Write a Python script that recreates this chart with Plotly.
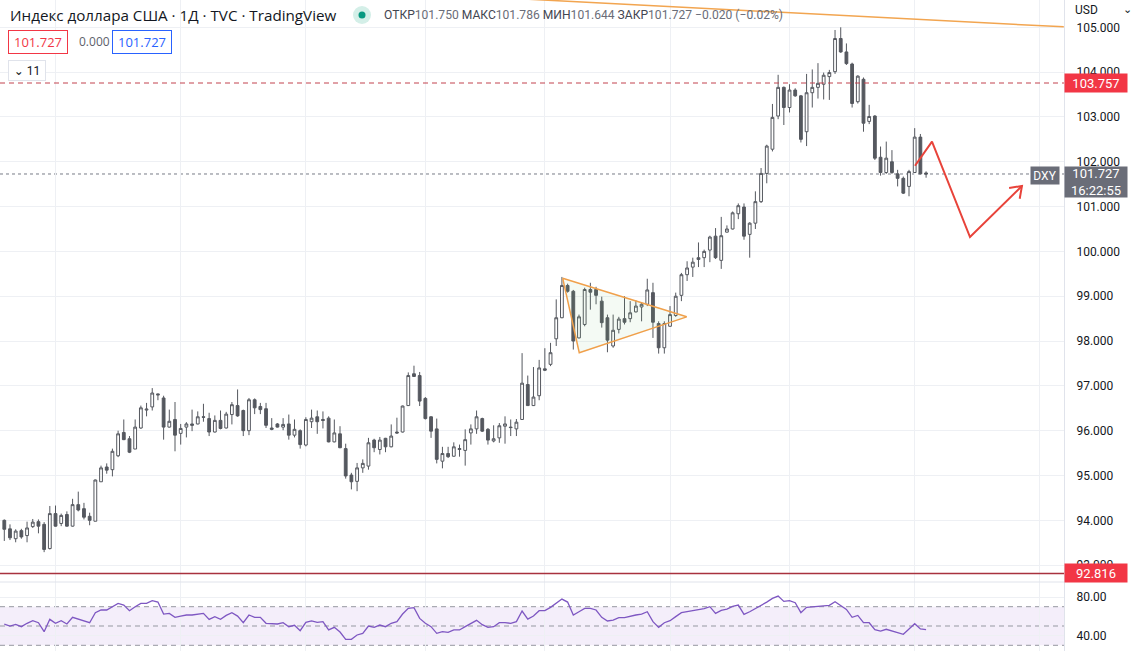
import math
import plotly.graph_objects as go

# ---------------- data ----------------
OPEN = [94.00, 93.81, 93.59, 93.77, 93.66, 93.86, 93.97, 93.91, 93.37, 94.15,
        93.93, 94.13, 93.87, 94.35, 94.26, 94.09, 93.98, 94.86, 95.19, 95.13,
        95.44, 95.96, 95.82, 95.59, 96.06, 96.46, 96.53, 96.82, 96.73, 96.08,
        96.25, 95.94, 96.08, 96.15, 96.15, 96.31, 96.27, 95.97, 96.23, 96.06,
        96.36, 96.56, 96.45, 96.00, 96.69, 96.54, 96.49, 96.06, 96.15, 96.08,
        96.15, 95.90, 96.00, 95.68, 96.20, 96.31, 96.25, 96.28, 95.75, 95.93,
        95.60, 95.01, 94.87, 95.17, 95.21, 95.79, 95.58, 95.83, 95.64, 95.97,
        95.97, 96.56, 97.27, 97.23, 96.72, 96.31, 96.04, 95.32, 95.49, 95.43,
        95.58, 95.56, 95.95, 96.04, 96.27, 96.03, 95.77, 95.84, 96.10, 96.08,
        96.04, 96.25, 97.03, 96.56, 96.78, 97.38, 97.48, 98.05, 98.52, 99.24,
        99.11, 98.07, 98.37, 99.15, 99.15, 98.89, 98.52, 97.89, 98.26, 98.50,
        98.50, 98.65, 98.76, 98.82, 99.08, 98.39, 97.85, 98.33, 98.57, 99.02,
        99.48, 99.65, 99.82, 99.86, 100.03, 100.34, 99.80, 100.43, 100.50, 100.84,
        100.99, 100.38, 100.63, 101.11, 101.74, 102.28, 103.02, 103.66, 103.21, 103.60,
        103.47, 102.67, 103.54, 103.66, 103.73, 103.90, 104.01, 104.75, 104.45, 104.18,
        103.34, 103.84, 102.90, 103.02, 102.10, 101.76, 102.00, 101.73, 101.63, 101.45,
        101.76, 102.55, 101.750]
HIGH = [94.02, 93.91, 93.80, 93.81, 93.97, 94.03, 94.02, 93.96, 94.32, 94.33,
        94.15, 94.20, 94.48, 94.64, 94.39, 94.17, 94.91, 95.22, 95.27, 95.60,
        96.00, 96.25, 95.88, 96.25, 96.56, 96.62, 96.95, 96.83, 96.78, 96.47,
        96.64, 96.15, 96.19, 96.47, 96.43, 96.60, 96.40, 96.34, 96.45, 96.42,
        96.64, 96.92, 96.47, 96.73, 96.72, 96.62, 96.62, 96.28, 96.17, 96.28,
        96.36, 96.25, 96.03, 96.30, 96.47, 96.45, 96.43, 96.32, 96.25, 96.10,
        95.71, 95.06, 95.28, 95.36, 95.84, 95.82, 95.86, 95.84, 96.14, 96.29,
        96.56, 97.30, 97.45, 97.31, 96.75, 96.32, 96.27, 95.64, 95.64, 95.74,
        95.69, 96.03, 96.14, 96.45, 96.29, 96.06, 96.12, 96.17, 96.32, 96.25,
        96.26, 97.73, 97.23, 97.42, 97.58, 97.84, 97.96, 98.93, 99.43, 99.28,
        99.14, 98.59, 99.19, 99.30, 99.21, 98.99, 98.59, 98.59, 98.54, 99.00,
        98.89, 98.91, 98.87, 99.39, 99.30, 98.44, 98.44, 98.78, 99.08, 99.52,
        99.78, 99.86, 100.20, 100.04, 100.35, 100.52, 100.77, 100.58, 100.89, 101.07,
        101.07, 100.65, 101.34, 101.86, 102.38, 103.29, 103.94, 103.68, 103.73, 103.64,
        103.49, 103.96, 104.06, 104.20, 103.99, 104.05, 104.94, 105.00, 104.64, 104.21,
        103.93, 103.88, 103.27, 103.04, 102.34, 102.45, 102.26, 101.82, 101.67, 101.82,
        102.75, 102.62, 101.786]
LOW = [93.54, 93.56, 93.51, 93.59, 93.51, 93.83, 93.71, 93.29, 93.35, 93.86,
       93.87, 93.86, 93.86, 94.20, 94.02, 93.89, 93.98, 94.86, 95.04, 94.98,
       95.41, 95.79, 95.50, 95.59, 96.04, 96.32, 96.45, 96.68, 95.80, 96.07,
       95.54, 95.69, 95.85, 95.99, 96.14, 96.20, 95.88, 95.96, 96.03, 96.05,
       96.14, 96.31, 95.88, 95.90, 96.37, 96.37, 96.06, 96.01, 96.07, 96.01,
       95.80, 95.85, 95.60, 95.65, 96.06, 95.93, 96.05, 95.74, 95.74, 95.61,
       94.93, 94.69, 94.65, 95.06, 95.13, 95.52, 95.47, 95.52, 95.63, 95.93,
       95.96, 96.55, 97.20, 96.55, 96.25, 95.84, 95.27, 95.16, 95.39, 95.42,
       95.42, 95.22, 95.69, 95.93, 95.97, 95.69, 95.74, 95.73, 95.71, 95.88,
       95.88, 96.24, 96.55, 96.55, 96.68, 97.33, 97.44, 97.89, 98.51, 99.08,
       97.81, 98.06, 98.33, 98.70, 98.82, 98.30, 97.75, 97.85, 98.17, 98.37,
       98.42, 98.64, 98.44, 98.78, 98.07, 97.72, 97.72, 98.32, 98.54, 98.89,
       99.34, 99.43, 99.65, 99.65, 99.76, 99.83, 99.61, 100.42, 100.49, 100.72,
       100.26, 99.86, 100.50, 101.08, 101.52, 102.23, 102.95, 102.82, 103.10, 103.45,
       102.43, 102.35, 103.21, 103.41, 103.39, 103.38, 103.96, 104.43, 104.16, 103.21,
       103.30, 102.67, 102.84, 102.04, 101.69, 101.73, 101.73, 101.45, 101.28, 101.23,
       101.75, 101.72, 101.644]
CLOSE = [93.80, 93.61, 93.76, 93.63, 93.83, 93.96, 93.87, 93.35, 94.15, 93.87,
         94.11, 93.87, 94.35, 94.23, 94.07, 94.00, 94.90, 95.17, 95.12, 95.54,
         95.93, 95.80, 95.52, 96.08, 96.51, 96.48, 96.84, 96.80, 96.08, 96.21,
         95.90, 96.05, 96.15, 96.12, 96.31, 96.30, 95.97, 96.23, 96.05, 96.37,
         96.58, 96.33, 96.00, 96.69, 96.51, 96.47, 96.12, 96.03, 96.08, 96.14,
         95.90, 96.03, 95.69, 96.25, 96.28, 96.20, 96.23, 95.75, 95.95, 95.62,
         94.99, 94.86, 95.17, 95.27, 95.73, 95.62, 95.79, 95.64, 95.88, 95.95,
         96.55, 97.23, 97.21, 96.66, 96.27, 95.99, 95.36, 95.49, 95.42, 95.64,
         95.60, 95.80, 96.04, 96.31, 95.99, 95.79, 95.82, 96.11, 96.15, 96.07,
         96.19, 97.06, 96.56, 96.75, 97.40, 97.35, 97.74, 98.52, 99.24, 99.11,
         98.00, 98.54, 99.15, 99.09, 99.02, 98.41, 98.02, 98.24, 98.49, 98.42,
         98.63, 98.78, 98.82, 99.14, 98.42, 97.85, 98.39, 98.59, 99.00, 99.48,
         99.63, 99.76, 99.86, 100.00, 100.32, 99.86, 100.35, 100.50, 100.86, 101.02,
         100.34, 100.63, 101.11, 101.74, 102.35, 102.99, 103.66, 103.21, 103.60, 103.47,
         102.50, 103.54, 103.66, 103.75, 103.93, 103.99, 104.75, 104.45, 104.19, 103.30,
         103.91, 102.86, 103.01, 102.08, 101.76, 102.08, 101.76, 101.63, 101.30, 101.78,
         102.55, 101.73, 101.727]
RSI = [52.0, 50.0, 51.7, 49.3, 52.8, 55.5, 53.4, 44.1, 56.9, 52.8,
       55.5, 52.1, 59.0, 57.2, 54.8, 53.4, 63.8, 66.6, 66.6, 70.0,
       73.4, 71.7, 65.9, 70.0, 73.4, 73.4, 76.2, 74.8, 62.4, 63.1,
       59.0, 60.3, 61.4, 61.4, 62.0, 63.1, 56.9, 59.7, 56.9, 61.0,
       63.8, 60.3, 53.4, 61.4, 59.0, 59.0, 52.8, 52.1, 52.1, 53.4,
       49.3, 50.7, 45.2, 53.8, 55.2, 53.8, 54.5, 45.9, 48.6, 43.8,
       36.2, 36.2, 40.7, 42.4, 50.0, 48.6, 51.0, 49.3, 52.8, 54.5,
       62.4, 68.3, 69.0, 57.9, 52.8, 49.3, 42.4, 44.1, 43.4, 45.9,
       45.9, 49.3, 52.8, 55.9, 51.4, 48.6, 49.3, 53.4, 53.4, 52.8,
       54.5, 65.5, 57.2, 60.3, 65.9, 65.9, 69.3, 74.1, 77.9, 74.8,
       61.4, 64.8, 68.3, 68.3, 66.6, 59.0, 55.2, 56.2, 58.6, 58.6,
       60.3, 61.4, 62.4, 64.8, 54.5, 48.6, 53.4, 55.5, 59.7, 63.8,
       64.8, 66.2, 66.9, 67.9, 70.0, 63.1, 66.2, 67.6, 70.3, 71.7,
       62.1, 64.8, 67.9, 71.4, 74.8, 78.6, 81.0, 75.5, 76.2, 74.1,
       63.8, 69.3, 70.0, 70.0, 71.0, 71.4, 75.2, 71.0, 67.2, 59.0,
       61.0, 53.4, 53.4, 46.2, 44.8, 46.6, 44.8, 43.1, 41.4, 46.9,
       52.4, 46.9, 46.2]
BAR_INDEX = list(range(len(OPEN)))

PRICE_TICKS = [93, 94, 95, 96, 97, 98, 99, 100, 101, 102, 103, 104, 105]
RSI_TICKS = [40, 80]
RSI_TICK_TEXT = ["40.00", "80.00"]
RSI_LEVELS = [70, 50, 30]
MONTH_START_BARS = [9, 31, 53, 74, 95, 117, 138, 160, 182]

LAST_PRICE = 101.727
RESIST_LEVEL = 103.757
SUPPORT_LEVEL = 92.816

# drawings (bar index, price)
TREND_IDX = [90.0, 186.2]
TREND_PRICE = [105.64, 105.01]
TRI_IDX = [98.14, 101.05, 119.93, 98.14]
TRI_PRICE = [99.40, 97.74, 98.54, 99.40]
FC_IDX = [160.05, 163.04, 169.72, 178.85]
FC_PRICE = [101.91, 102.45, 100.32, 101.46]

# ---------------- geometry ----------------
W, H = 1131, 651
PLOT_W = 1064
SPLIT = 582
X0, X1 = -0.756, 186.24
Y0, Y1 = 92.624, 105.609
R0, R1 = 24.1, 95.6

CANDLE = "#55585f"
GRID = "#eef0f4"
FONT = "Roboto, Noto Sans, DejaVu Sans, sans-serif"
HFONT = "Open Sans, Noto Sans, DejaVu Sans, sans-serif"

fig = go.Figure()

fig.add_trace(go.Candlestick(
    x=BAR_INDEX, open=OPEN, high=HIGH, low=LOW, close=CLOSE,
    increasing=dict(line=dict(color=CANDLE, width=1), fillcolor="#ffffff"),
    decreasing=dict(line=dict(color=CANDLE, width=1), fillcolor=CANDLE),
    whiskerwidth=0, hoverinfo="skip", xaxis="x", yaxis="y"))

fig.add_trace(go.Scatter(x=TREND_IDX, y=TREND_PRICE, mode="lines",
                         line=dict(color="#f2a550", width=1.5), hoverinfo="skip",
                         xaxis="x", yaxis="y"))
fig.add_trace(go.Scatter(x=TRI_IDX, y=TRI_PRICE, mode="lines", fill="toself",
                         fillcolor="rgba(120,190,110,0.08)",
                         line=dict(color="#f0a04b", width=1.5), hoverinfo="skip",
                         xaxis="x", yaxis="y"))
fig.add_trace(go.Scatter(x=FC_IDX, y=FC_PRICE, mode="lines",
                         line=dict(color="#e8433a", width=2), hoverinfo="skip",
                         xaxis="x", yaxis="y"))
# arrow head (open chevron) computed from the last segment
pxx = PLOT_W / (X1 - X0)
pxy = SPLIT / (Y1 - Y0)
dx = (FC_IDX[-1] - FC_IDX[-2]) * pxx
dy = (FC_PRICE[-1] - FC_PRICE[-2]) * pxy
ang = math.atan2(dy, dx)
arm = 13
hx, hy = [], []
for s in (1, -1):
    a = ang + math.pi + s * 0.62
    hx.append(FC_IDX[-1] + math.cos(a) * arm / pxx)
    hy.append(FC_PRICE[-1] + math.sin(a) * arm / pxy)
fig.add_trace(go.Scatter(x=[hx[0], FC_IDX[-1], hx[1]], y=[hy[0], FC_PRICE[-1], hy[1]],
                         mode="lines", line=dict(color="#e8433a", width=2),
                         hoverinfo="skip", xaxis="x", yaxis="y"))

fig.add_trace(go.Scatter(x=BAR_INDEX, y=RSI, mode="lines",
                         line=dict(color="#7e57c2", width=1.3), hoverinfo="skip",
                         xaxis="x2", yaxis="y2"))

shapes = []
shapes.append(dict(type="rect", xref="paper", yref="y2", x0=0, x1=1, y0=RSI_LEVELS[2], y1=RSI_LEVELS[0],
                   fillcolor="rgba(156,100,210,0.11)", line=dict(width=0), layer="below"))
for lv in RSI_LEVELS:
    shapes.append(dict(type="line", xref="paper", yref="y2", x0=0, x1=1, y0=lv, y1=lv,
                       line=dict(color="#9598a1", width=1, dash="5px,4px"), layer="below"))
shapes.append(dict(type="line", xref="paper", yref="y", x0=0, x1=1, y0=RESIST_LEVEL, y1=RESIST_LEVEL,
                   line=dict(color="#c2434f", width=1, dash="5px,4px")))
shapes.append(dict(type="line", xref="paper", yref="y", x0=0, x1=1, y0=SUPPORT_LEVEL, y1=SUPPORT_LEVEL,
                   line=dict(color="#a8323e", width=1.5)))
shapes.append(dict(type="line", xref="paper", yref="y", x0=0, x1=1, y0=LAST_PRICE, y1=LAST_PRICE,
                   line=dict(color="#787b86", width=1, dash="dot"), layer="below"))
shapes.append(dict(type="line", xref="paper", yref="paper", x0=0, x1=1,
                   y0=1 - SPLIT / H, y1=1 - SPLIT / H, line=dict(color="#e0e3eb", width=1)))


def px(x):
    return x / PLOT_W


def py(y):
    return 1 - y / H


shapes.append(dict(type="circle", xref="paper", yref="paper", x0=px(353), x1=px(371),
                   y0=py(24), y1=py(6), fillcolor="#d4efe8", line=dict(width=0)))
shapes.append(dict(type="circle", xref="paper", yref="paper", x0=px(358.5), x1=px(365.5),
                   y0=py(18.5), y1=py(11.5), fillcolor="#089981", line=dict(width=0)))

ann = []
ann.append(dict(xref="paper", yref="paper", x=px(8), y=py(15), xanchor="left", yanchor="middle",
                text="Индекс доллара США · 1Д · TVC · TradingView", showarrow=False,
                font=dict(size=15.2, color="#131722", family=HFONT)))
lab = "#434651"
val = "#6a6d78"
ohlc = (f"<span style='color:{lab}'>ОТКР</span><span style='color:{val}'>{OPEN[-1]:.3f}</span> "
        f"<span style='color:{lab}'>МАКС</span><span style='color:{val}'>{HIGH[-1]:.3f}</span> "
        f"<span style='color:{lab}'>МИН</span><span style='color:{val}'>{LOW[-1]:.3f}</span> "
        f"<span style='color:{lab}'>ЗАКР</span><span style='color:{val}'>{CLOSE[-1]:.3f}</span> "
        f"<span style='color:{val}'>−0.020 (−0.02%)</span>")
ann.append(dict(xref="paper", yref="paper", x=px(382), y=py(15), xanchor="left", yanchor="middle",
                text=ohlc, showarrow=False, align="left", font=dict(size=12.1, family=FONT)))
ann.append(dict(xref="paper", yref="paper", x=px(8), y=py(42), xanchor="left", yanchor="middle",
                text=f"{LAST_PRICE:.3f}", showarrow=False, bordercolor="#f23645", borderwidth=1,
                borderpad=3, width=52, height=16, bgcolor="white",
                font=dict(size=13, color="#f23645", family=HFONT)))
ann.append(dict(xref="paper", yref="paper", x=px(77), y=py(42), xanchor="left", yanchor="middle",
                text="0.000", showarrow=False, font=dict(size=12, color="#5d606b", family=HFONT)))
ann.append(dict(xref="paper", yref="paper", x=px(112), y=py(42), xanchor="left", yanchor="middle",
                text=f"{LAST_PRICE:.3f}", showarrow=False, bordercolor="#2962ff", borderwidth=1,
                borderpad=3, width=52, height=16, bgcolor="white",
                font=dict(size=13, color="#2962ff", family=HFONT)))
ann.append(dict(xref="paper", yref="paper", x=px(8), y=py(70), xanchor="left", yanchor="middle",
                text="⌄ 11", showarrow=False, bordercolor="#e0e3eb", borderwidth=1,
                borderpad=2, width=32, height=15, bgcolor="white",
                font=dict(size=12, color="#131722", family=FONT)))
ann.append(dict(xref="paper", yref="paper", x=px(1073), y=py(10), xanchor="left", yanchor="middle",
                text="USD", showarrow=False, font=dict(size=12, color="#131722", family=FONT)))
ann.append(dict(xref="paper", yref="paper", x=px(1121), y=py(10), xanchor="left", yanchor="middle",
                text="⌄", showarrow=False, font=dict(size=11, color="#131722", family=FONT)))
for lvl in (RESIST_LEVEL, SUPPORT_LEVEL):
    ann.append(dict(xref="paper", yref="y", x=1, y=lvl, xanchor="left", yanchor="middle",
                    text=f"{lvl:.3f}", showarrow=False, bgcolor="#f23645", borderpad=1,
                    width=60, height=16, align="center",
                    font=dict(size=13, color="white", family=FONT)))
ann.append(dict(xref="paper", yref="y", x=1, y=LAST_PRICE, xanchor="left", yanchor="top", yshift=8,
                text=f"{LAST_PRICE:.3f}<br>16:22:55", showarrow=False, bgcolor="#6a6d78",
                borderpad=1, width=60, height=28, align="center",
                font=dict(size=13, color="white", family=FONT)))
ann.append(dict(xref="paper", yref="y", x=1, y=LAST_PRICE, xanchor="right", yanchor="top", yshift=8,
                xshift=-4, text="DXY", showarrow=False, bgcolor="#6a6d78",
                borderpad=1, width=26, height=15, align="center",
                font=dict(size=12, color="white", family=FONT)))

axis_common = dict(showgrid=True, gridcolor=GRID, gridwidth=1, zeroline=False, fixedrange=True)
fig.update_layout(
    width=W, height=H, margin=dict(l=0, r=W - PLOT_W, t=0, b=0),
    paper_bgcolor="white", plot_bgcolor="white", showlegend=False, hovermode=False,
    xaxis=dict(domain=[0, 1], range=[X0, X1], anchor="y", tickvals=MONTH_START_BARS,
               showticklabels=False, ticks="", rangeslider=dict(visible=False), **axis_common),
    xaxis2=dict(domain=[0, 1], range=[X0, X1], anchor="y2", matches="x", tickvals=MONTH_START_BARS,
                showticklabels=False, ticks="", **axis_common),
    yaxis=dict(domain=[1 - SPLIT / H, 1], range=[Y0, Y1], side="right", anchor="x",
               tickvals=PRICE_TICKS, tickformat=".3f", ticks="", ticklabelstandoff=9,
               showline=True, linecolor="#e0e3eb",
               tickfont=dict(size=12, color="#131722", family=FONT), **axis_common),
    yaxis2=dict(domain=[0, 1 - SPLIT / H], range=[R0, R1], side="right", anchor="x2",
                tickvals=RSI_TICKS, ticktext=RSI_TICK_TEXT, ticks="", ticklabelstandoff=9,
                showline=True, linecolor="#e0e3eb",
                tickfont=dict(size=12, color="#131722", family=FONT), **axis_common),
    shapes=shapes, annotations=ann,
)

fig.write_html("out.html", config={"displayModeBar": False})
